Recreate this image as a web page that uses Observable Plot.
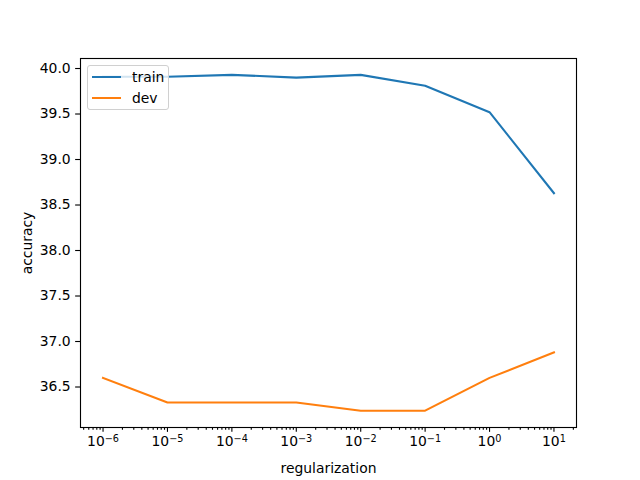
<!DOCTYPE html>
<html>
<head>
<meta charset="utf-8">
<script src="https://cdn.jsdelivr.net/npm/d3@7"></script>
<script src="https://cdn.jsdelivr.net/npm/@observablehq/plot@0.6"></script>
<style>
  html, body { margin: 0; padding: 0; background: white; }
  #wrap { position: relative; width: 640px; height: 480px; font-family: "DejaVu Sans", sans-serif; }
  #legend { position: absolute; left: 87px; top: 65px; width: 82px; height: 45px;
    border: 1px solid #d0d0d0; border-radius: 3px; background: rgba(255,255,255,0.8);
    font-size: 13.9px; color: #000; box-sizing: border-box; }
  .item { position: absolute; left: 4px; height: 16px; display: flex; align-items: center; }
  .sw { width: 29px; height: 2px; margin-right: 11px; }
</style>
</head>
<body>
<div id="wrap"></div>
<script>
// data
const regularization = [1e-6, 1e-5, 1e-4, 1e-3, 1e-2, 1e-1, 1e0, 1e1];
const train = [39.91, 39.91, 39.93, 39.90, 39.93, 39.81, 39.52, 38.63];
const dev = [36.60, 36.33, 36.33, 36.33, 36.24, 36.24, 36.60, 36.88];
const seriesNames = ["train", "dev"];
const seriesColors = ["#1f77b4", "#ff7f0e"];
const xMajorTicks = [1e-6, 1e-5, 1e-4, 1e-3, 1e-2, 1e-1, 1e0, 1e1];
const yTicks = [36.5, 37.0, 37.5, 38.0, 38.5, 39.0, 39.5, 40.0];

const rows = [];
regularization.forEach((r, i) => {
  rows.push({series: "train", reg: r, acc: train[i]});
  rows.push({series: "dev", reg: r, acc: dev[i]});
});

const minorTicks = [];
for (let e = -7; e <= 1; e++) for (let m = 2; m <= 9; m++) {
  const v = m * Math.pow(10, e);
  if (v > Math.pow(10, -6.35) && v < Math.pow(10, 1.35)) minorTicks.push(v);
}

const fmtPow = d => "10^" + Math.round(Math.log10(d));

const major = 4.86, minor = 2.78, lw = 1.11;

const chart = Plot.plot({
  width: 640,
  height: 480,
  marginLeft: 80,
  marginRight: 64,
  marginTop: 58,
  marginBottom: 53,
  style: {fontFamily: "DejaVu Sans, sans-serif", fontSize: "13.9px", background: "white", color: "black"},
  x: {type: "log", domain: [Math.pow(10, -6.35), Math.pow(10, 1.35)]},
  y: {domain: [36.055, 40.11]},
  color: {domain: seriesNames, range: seriesColors},
  marks: [
    Plot.line(rows, {x: "reg", y: "acc", z: "series", stroke: "series", strokeWidth: 2.08, strokeLinejoin: "round", strokeLinecap: "square"}),
    Plot.frame({stroke: "black", strokeWidth: lw}),
    Plot.axisX({ticks: minorTicks, tickSize: minor, strokeWidth: lw, tickFormat: () => "", label: null}),
    Plot.axisX({ticks: xMajorTicks, tickSize: major, tickPadding: 4, strokeWidth: lw, tickFormat: fmtPow,
      fontSize: "13.9px", label: "regularization", labelAnchor: "center", labelArrow: "none", labelOffset: 45}),
    Plot.axisY({ticks: yTicks, tickSize: major, tickPadding: 5, strokeWidth: lw, tickFormat: d3.format(".1f"),
      fontSize: "13.9px", label: "accuracy", labelAnchor: "center", labelArrow: "none", labelOffset: 58})
  ]
});

// render exponents as raised smaller text, like mathtext
d3.select(chart).selectAll("text").each(function () {
  const m = /^10\^(-?\d+)$/.exec(this.textContent);
  if (!m) return;
  const t = d3.select(this);
  t.text("10");
  t.append("tspan").attr("font-size", "9.7px").attr("dy", "-0.42em")
    .text(m[1].replace("-", "\u2212"));
});

const wrap = document.getElementById("wrap");
wrap.appendChild(chart);

const legend = document.createElement("div");
legend.id = "legend";
seriesNames.forEach((name, i) => {
  const item = document.createElement("div");
  item.className = "item";
  item.style.top = (3 + i * 20.5) + "px";
  const sw = document.createElement("span");
  sw.className = "sw";
  sw.style.background = seriesColors[i];
  const label = document.createElement("span");
  label.textContent = name;
  item.appendChild(sw);
  item.appendChild(label);
  legend.appendChild(item);
});
wrap.appendChild(legend);
</script>
</body>
</html>
